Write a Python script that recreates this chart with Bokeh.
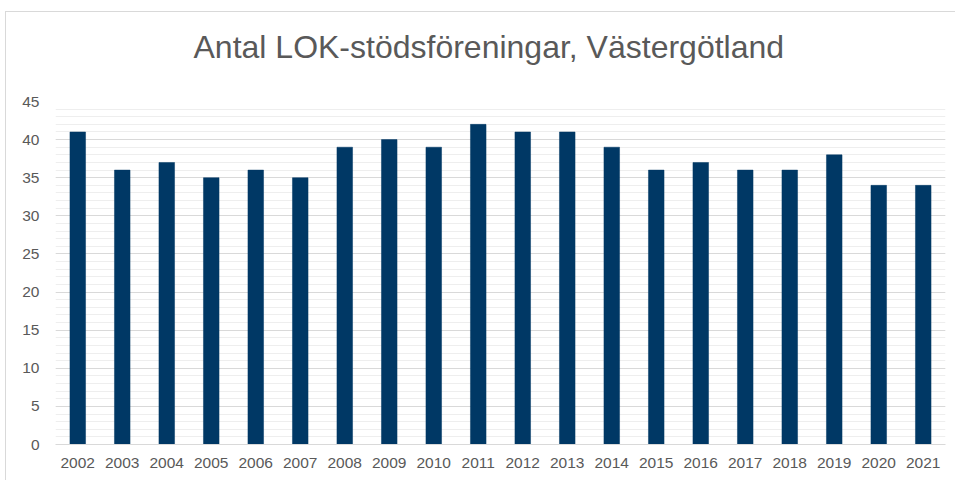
from bokeh.plotting import figure
from bokeh.models import FactorRange, Range1d, SingleIntervalTicker, ColumnDataSource, Title
from bokeh.embed import file_html
from bokeh.resources import INLINE

years = ["2002", "2003", "2004", "2005", "2006", "2007", "2008", "2009", "2010", "2011",
         "2012", "2013", "2014", "2015", "2016", "2017", "2018", "2019", "2020", "2021"]
counts = [41, 36, 37, 35, 36, 35, 39, 40, 39, 42, 41, 41, 39, 36, 37, 36, 36, 38, 34, 34]
title_text = "Antal LOK-stödsföreningar, Västergötland"

src = ColumnDataSource(dict(year=years, count=counts))

p = figure(width=950, height=469, x_range=FactorRange(*years), y_range=Range1d(0, 45),
           output_backend="svg", toolbar_location=None,
           min_border_left=49, min_border_right=11, min_border_top=89, min_border_bottom=37)
p.styles = {"margin-left": "5px", "margin-top": "11px",
            "border-left": "1px solid #d9d9d9", "border-top": "1px solid #d9d9d9"}

spacer = Title(text=" ", text_font_size="31px", standoff=0)
p.add_layout(spacer, "above")

p.title.text = title_text
p.title.align = "left"
p.title.offset = 138
p.title.text_font = "Liberation Sans"
p.title.text_font_size = "32px"
p.title.text_font_style = "normal"
p.title.text_color = "#595959"
p.title.standoff = 0

p.vbar(x="year", top="count", width=0.35, source=src, fill_color="#003865",
       line_color="#003865", line_width=0.5)

p.outline_line_color = None
p.x_range.range_padding = 0
p.yaxis.ticker = SingleIntervalTicker(interval=5, num_minor_ticks=5)
p.ygrid.grid_line_color = "#d9d9d9"
p.ygrid.grid_line_width = 1.2
p.ygrid.minor_grid_line_color = "#eeeeee"
p.ygrid.minor_grid_line_width = 1
p.xgrid.grid_line_color = None

for ax in (p.xaxis, p.yaxis):
    ax.major_tick_line_color = None
    ax.minor_tick_line_color = None
    ax.major_label_text_font = "Liberation Sans"
    ax.major_label_text_font_size = "15.5px"
    ax.major_label_text_color = "#595959"
p.yaxis.axis_line_color = None
p.xaxis.axis_line_color = "#d9d9d9"
p.xaxis.major_label_standoff = 7
p.yaxis.major_label_standoff = 10

open("out.html", "w").write(file_html(p, INLINE))
